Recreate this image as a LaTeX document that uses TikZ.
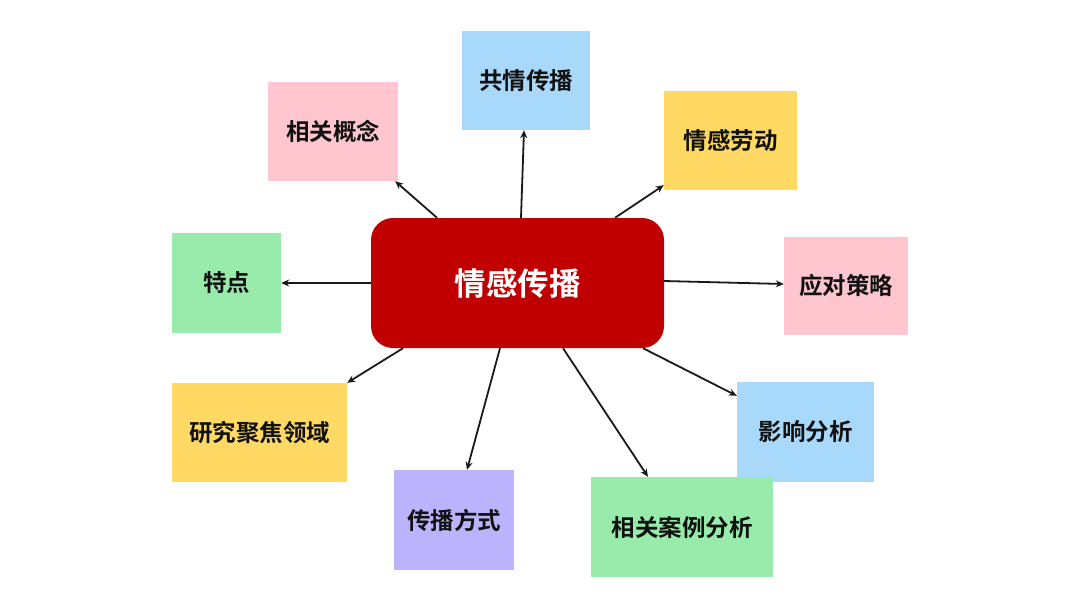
\documentclass[tikz,border=0pt]{standalone}
\usepackage{fontspec}
\newfontfamily\cjk{Noto Sans CJK SC}[BoldFont={Noto Sans CJK SC Bold}]
\usetikzlibrary{arrows.meta}
\definecolor{cred}{HTML}{C00000}
\definecolor{cpink}{HTML}{FFC6CF}
\definecolor{cblue}{HTML}{A8D8FA}
\definecolor{cyellow}{HTML}{FFD964}
\definecolor{cgreen}{HTML}{98EBAA}
\definecolor{cpurple}{HTML}{BBB4FC}
\definecolor{ctext}{HTML}{111111}
\tikzset{
  leaf/.style={fill=#1, draw=none, inner sep=0pt, font=\cjk\bfseries\fontsize{23.5}{27}\selectfont, text=ctext},
  arr/.style={draw=black!90, line width=1.8pt, -{Stealth[length=8pt,width=7pt]}}
}
\begin{document}
\begin{tikzpicture}[x=1pt,y=-1pt]
\useasboundingbox (0,0) rectangle (1080,608);
\fill[white] (0,0) rectangle (1080,608);
\node[fill=cred, rounded corners=22pt, minimum width=293pt, minimum height=130pt, inner sep=0pt,
      font=\cjk\bfseries\fontsize{31.5}{35}\selectfont, text=white] (c) at (517.5,283) {情感传播};
\node[leaf=cblue, minimum width=128pt, minimum height=99pt] (gq) at (526,80.5) {共情传播};
\node[leaf=cpink, minimum width=130pt, minimum height=99pt] (xg) at (333,131.5) {相关概念};
\node[leaf=cyellow, minimum width=133pt, minimum height=99pt] (ld) at (730.5,140.5) {情感劳动};
\node[leaf=cgreen, minimum width=109pt, minimum height=100pt] (td) at (226.5,283) {特点};
\node[leaf=cpink, minimum width=124pt, minimum height=98pt] (yc) at (846,286) {应对策略};
\node[leaf=cyellow, minimum width=175pt, minimum height=99pt] (yj) at (259.5,432.5) {研究聚焦领域};
\node[leaf=cblue, minimum width=137pt, minimum height=100pt] (yx) at (805.5,432) {影响分析};
\node[leaf=cpurple, minimum width=120pt, minimum height=100pt] (fs) at (454,520) {传播方式};
\node[leaf=cgreen, minimum width=182pt, minimum height=100pt] (al) at (682,527) {相关案例分析};
\draw[arr] ([xshift=3.5pt]c.north) -- ([xshift=-2pt]gq.south);
\draw[arr] ([xshift=-80.5pt]c.north) -- ([xshift=-3pt]xg.south east);
\draw[arr] ([xshift=97.5pt]c.north) -- ([yshift=5pt]ld.south west);
\draw[arr] (c.west) -- (td.east);
\draw[arr] ([yshift=2pt]c.east) -- ([yshift=2pt]yc.west);
\draw[arr] ([xshift=-114.5pt]c.south) -- (yj.north east);
\draw[arr] ([xshift=-17.5pt]c.south) -- ([xshift=13pt]fs.north);
\draw[arr] ([xshift=45.5pt]c.south) -- ([xshift=-34pt]al.north);
\draw[arr] ([xshift=125.5pt]c.south) -- ([yshift=-14pt]yx.north west);
\end{tikzpicture}
\end{document}
